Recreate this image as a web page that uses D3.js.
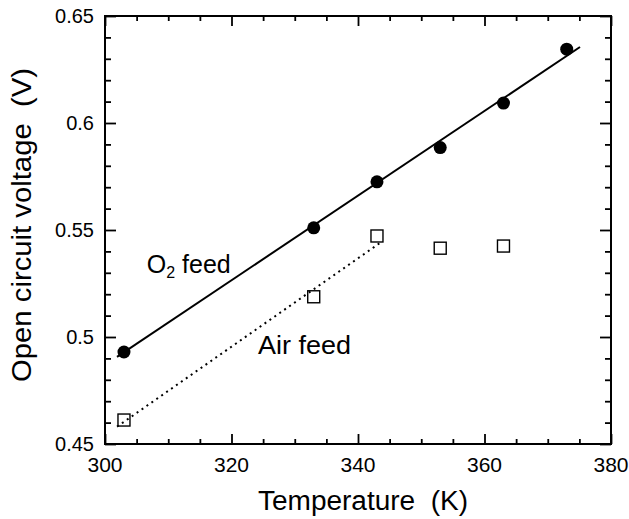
<!DOCTYPE html>
<html>
<head>
<meta charset="utf-8">
<script src="https://cdnjs.cloudflare.com/ajax/libs/d3/7.8.5/d3.min.js"></script>
<style>
  body { margin: 0; background: #fff; }
  text { font-family: "Liberation Sans", Arial, Helvetica, sans-serif; fill: #000; }
</style>
</head>
<body>
<svg id="chart" width="629" height="519"></svg>
<script>
const o2Temp = [303, 333, 343, 353, 363, 373];
const o2Volt = [0.493, 0.551, 0.5725, 0.5885, 0.6093, 0.6345];
const airTemp = [303, 333, 343, 353, 363];
const airVolt = [0.4612, 0.5188, 0.5472, 0.5415, 0.5425];

// fitted lines (end points)
const o2Fit = [[301.9, 0.4907], [375.1, 0.6355]];
const airFit = [[301.9, 0.4581], [343.5, 0.5440]];

const xTicks = [300, 320, 340, 360, 380];
const yTicks = [0.45, 0.5, 0.55, 0.6, 0.65];

const width = 629, height = 519;
const margin = { top: 16, right: 18, bottom: 75, left: 105 };
const w = width - margin.left - margin.right;
const h = height - margin.top - margin.bottom;

const svg = d3.select("#chart");
const g = svg.append("g")
    .attr("transform", `translate(${margin.left},${margin.top})`);

const x = d3.scaleLinear().domain([300, 380]).range([0, w]);
const y = d3.scaleLinear().domain([0.45, 0.65]).range([h, 0]);

const xMinor = d3.range(300, 381, 5);
const yMinor = d3.range(45, 66, 1).map(d => d / 100);

// inward ticks on all four sides
function tickAxis(axisFn, scale, vals, len, tr) {
    g.append("g")
        .attr("transform", tr)
        .call(axisFn(scale).tickValues(vals).tickSize(-len).tickFormat(""))
        .call(s => s.select(".domain").remove())
        .selectAll("line").attr("stroke", "#000").attr("stroke-width", 1.8);
}
const xMaj = xTicks, xMin = xMinor.filter(d => !xTicks.includes(d));
const yMaj = yTicks, yMin = yMinor.filter(d => !yTicks.some(t => Math.abs(t - d) < 1e-9));

tickAxis(d3.axisBottom, x, xMaj, 10, `translate(0,${h})`);
tickAxis(d3.axisBottom, x, xMin, 5, `translate(0,${h})`);
tickAxis(d3.axisTop, x, xMaj, 10, `translate(0,0)`);
tickAxis(d3.axisTop, x, xMin, 5, `translate(0,0)`);
tickAxis(d3.axisLeft, y, yMaj, 11, `translate(0,0)`);
tickAxis(d3.axisLeft, y, yMin, 6, `translate(0,0)`);
tickAxis(d3.axisRight, y, yMaj, 11, `translate(${w},0)`);
tickAxis(d3.axisRight, y, yMin, 6, `translate(${w},0)`);

// frame
g.append("rect")
    .attr("width", w).attr("height", h)
    .attr("fill", "none").attr("stroke", "#000").attr("stroke-width", 2);

// tick labels
g.selectAll(".xlab").data(xTicks).enter().append("text")
    .attr("x", d => x(d)).attr("y", h + 28)
    .attr("text-anchor", "middle")
    .style("font-size", "21px")
    .text(d => d);

g.selectAll(".ylab").data(yTicks).enter().append("text")
    .attr("x", -11).attr("y", d => y(d))
    .attr("dy", "0.36em")
    .attr("text-anchor", "end")
    .style("font-size", "20px")
    .text(d => d3.format("")(d));

// axis titles
svg.append("text")
    .attr("x", 363).attr("y", 510)
    .attr("text-anchor", "middle")
    .attr("textLength", 210).attr("lengthAdjust", "spacingAndGlyphs")
    .style("font-size", "27px")
    .text("Temperature\u00a0\u00a0(K)");

svg.append("text")
    .attr("transform", "translate(31,225) rotate(-90)")
    .attr("text-anchor", "middle")
    .attr("textLength", 314).attr("lengthAdjust", "spacingAndGlyphs")
    .style("font-size", "27px")
    .text("Open circuit voltage\u00a0\u00a0(V)");

// fit lines
const line = d3.line().x(d => x(d[0])).y(d => y(d[1]));
g.append("path").datum(o2Fit).attr("d", line)
    .attr("fill", "none").attr("stroke", "#000").attr("stroke-width", 2);
g.append("path").datum(airFit).attr("d", line)
    .attr("fill", "none").attr("stroke", "#000").attr("stroke-width", 2)
    .attr("stroke-dasharray", "2,4");

// O2 points
g.selectAll(".o2").data(o2Temp).enter().append("circle")
    .attr("cx", d => x(d)).attr("cy", (d, i) => y(o2Volt[i]))
    .attr("r", 6.5).attr("fill", "#000");

// air points
const sq = 12;
g.selectAll(".air").data(airTemp).enter().append("rect")
    .attr("x", d => x(d) - sq / 2).attr("y", (d, i) => y(airVolt[i]) - sq / 2)
    .attr("width", sq).attr("height", sq)
    .attr("fill", "none").attr("stroke", "#000").attr("stroke-width", 1.4);

// labels
const o2Label = g.append("text")
    .attr("x", x(306.6)).attr("y", y(0.530))
    .style("font-size", "25px");
o2Label.append("tspan").text("O");
o2Label.append("tspan").attr("dy", 5).style("font-size", "16px").text("2");
o2Label.append("tspan").attr("dy", -5).text(" feed");

g.append("text")
    .attr("x", x(324.2)).attr("y", y(0.492))
    .attr("textLength", 93).attr("lengthAdjust", "spacingAndGlyphs")
    .style("font-size", "25px")
    .text("Air feed");
</script>
</body>
</html>
